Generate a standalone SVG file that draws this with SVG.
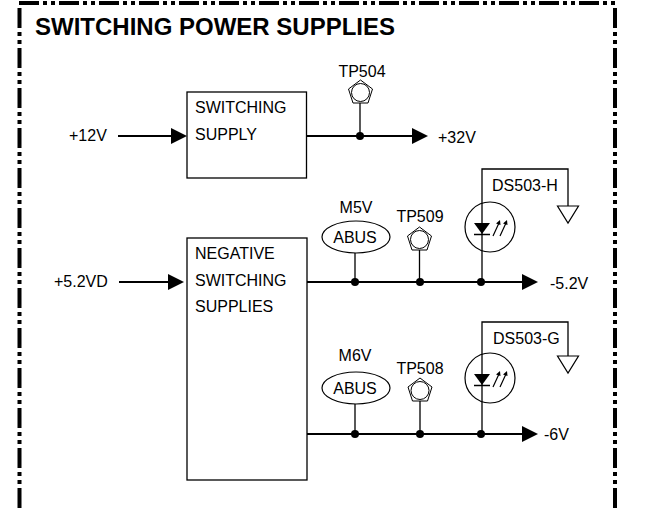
<svg xmlns="http://www.w3.org/2000/svg" width="646" height="508" viewBox="0 0 646 508">
<style>
text{font-family:"Liberation Sans",Arial,sans-serif;font-size:16px;fill:#000}
.t{font-size:24px;font-weight:bold}
.m{text-anchor:middle}
.b{fill:#fff;stroke:#000;stroke-width:1.300}
.w{fill:none;stroke:#000;stroke-width:2}
.n{fill:none;stroke:#000;stroke-width:1.300}
.f{fill:none;stroke:#000;stroke-width:4;stroke-dasharray:20 4 4 4 4 4}
</style>
<defs>
<g id="tp"><polygon points="0,-12.500 12,-3.500 7.500,10.500 -7.500,10.500 -12,-3.500" fill="#fff" stroke="#000"/><circle r="9" fill="none" stroke="#000"/></g>
<g id="led"><circle cx="8" r="25" fill="none" stroke="#000" stroke-width="1.200"/><polygon points="-8,-4 8,-4 0,7" fill="#000"/><path d="M-8,7.500H8" stroke="#000" stroke-width="1.500"/><path d="M11,9L17,-4M18,9L24,-4" stroke="#000" stroke-width="1.200" fill="none"/><path d="M18,-7l-4,3.500 4.500,1.500zM25,-7l-4,3.500 4.500,1.500z" fill="#000"/></g>
<polygon id="gnd" points="-10.500,0 10.500,0 0,17" fill="#fff" stroke="#000" stroke-width="1.200"/>
<ellipse id="abus" rx="34" ry="16" fill="#fff" stroke="#000" stroke-width="1.200"/>
</defs>
<g id="frame">
<path class="f" d="M19,3H617"/>
<path class="f" d="M19.500,8V508"/>
<path class="f" d="M615,8V508"/>
</g>
<text class="t" x="35" y="35">SWITCHING POWER SUPPLIES</text>
<g id="connectors">
<path class="w" d="M118,136H172"/><polygon points="171,128 187,136 171,144"/>
<path class="w" d="M306,136H413"/><polygon points="412,128 428,136 412,144"/>
<path class="n" d="M360,102V136"/>
<circle cx="360" cy="136" r="4"/>
<path class="w" d="M119,282H170"/><polygon points="168,274 184,282 168,290"/>
<path class="w" d="M305,282H524"/><polygon points="522,274 538,282 522,290"/>
<circle cx="355" cy="282" r="4"/><circle cx="420" cy="282" r="4"/><circle cx="481" cy="282" r="4"/>
<path class="n" d="M355,253V282M419.500,250V282"/>
<path class="n" d="M482,282V169H568V206"/>
<path class="w" d="M305,434H524"/><polygon points="522,426 538,434 522,442"/>
<circle cx="355" cy="434" r="4"/><circle cx="420" cy="434" r="4"/><circle cx="481" cy="434" r="4"/>
<path class="n" d="M355,404V434M420,401V434"/>
<path class="n" d="M482,434V322H568V356"/>
</g>
<g id="box1"><rect class="b" x="187" y="92" width="119.500" height="86"/><text x="195" y="113">SWITCHING</text><text x="195" y="140">SUPPLY</text></g>
<g id="box2"><rect class="b" x="187" y="238" width="120" height="242"/><text x="195" y="259">NEGATIVE</text><text x="195" y="286">SWITCHING</text><text x="195" y="312">SUPPLIES</text></g>
<g id="lbl12"><text x="69" y="141">+12V</text></g>
<g id="lbl52"><text x="54" y="287">+5.2VD</text></g>
<g id="lbl32"><text x="438" y="143">+32V</text></g>
<g id="lbl-52"><text x="550" y="289">-5.2V</text></g>
<g id="lbl-6"><text x="544" y="440">-6V</text></g>
<g id="tp504"><use href="#tp" x="360.500" y="92.500"/><text class="m" x="362" y="77">TP504</text></g>
<g id="tp509"><use href="#tp" x="419.500" y="239.500"/><text class="m" x="420" y="222">TP509</text></g>
<g id="tp508"><use href="#tp" x="420" y="390.500"/><text class="m" x="420" y="374">TP508</text></g>
<g id="m5v"><use href="#abus" x="356" y="237"/><text class="m" x="355" y="243">ABUS</text><text class="m" x="356" y="213">M5V</text></g>
<g id="m6v"><use href="#abus" x="356" y="388"/><text class="m" x="355" y="394">ABUS</text><text class="m" x="355" y="361">M6V</text></g>
<g id="led-h"><use href="#led" x="482" y="227"/><use href="#gnd" x="568" y="206"/><text x="492" y="191">DS503-H</text></g>
<g id="led-g"><use href="#led" x="482" y="378"/><use href="#gnd" x="568" y="356"/><text x="493" y="344">DS503-G</text></g>
</svg>
